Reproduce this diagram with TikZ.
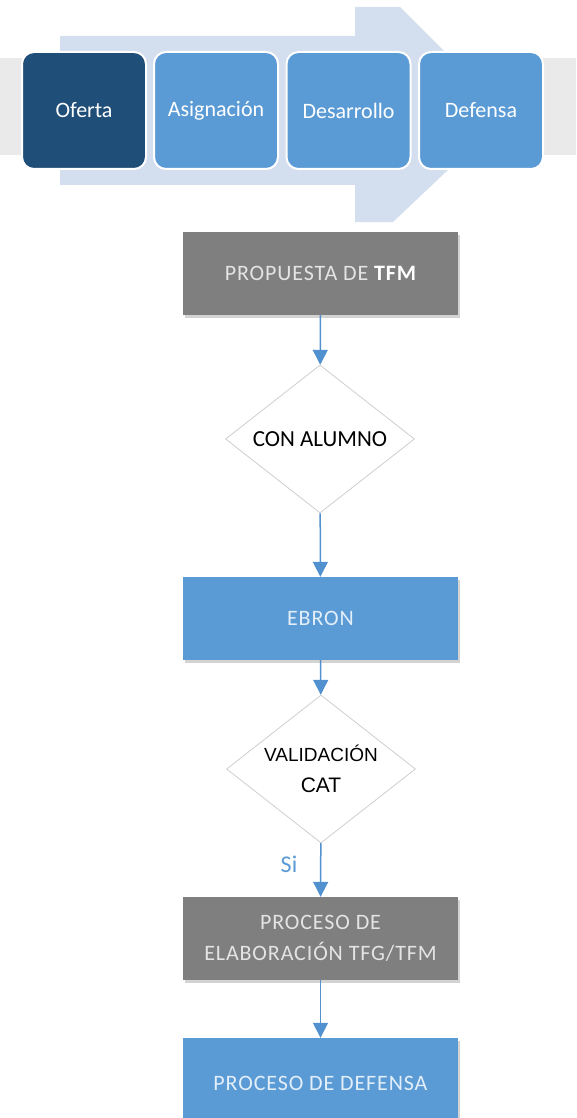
\documentclass[tikz,border=0pt]{standalone}
\usepackage{fontspec}
\setmainfont{Carlito}
\newfontfamily\arialf{Liberation Sans}
\usetikzlibrary{shapes.geometric,arrows.meta,shadows}
\definecolor{bandgray}{HTML}{EAEAEA}
\definecolor{arrowblue}{HTML}{D3DEEF}
\definecolor{darkblue}{HTML}{1F4E79}
\definecolor{midblue}{HTML}{5B9BD5}
\definecolor{boxgray}{HTML}{7F7F7F}
\definecolor{lighttext}{HTML}{E4E4E4}
\definecolor{bluetext}{HTML}{E2EEF9}
\definecolor{diaborder}{HTML}{CFCFCF}
\definecolor{connblue}{HTML}{5291CF}
\tikzset{
  stage/.style={rounded corners=12pt, draw=white, line width=2pt, minimum width=124pt, minimum height=117pt, inner sep=0pt, text=white, font=\fontsize{22}{24}\selectfont},
  procbox/.style={minimum width=275pt, minimum height=83pt, inner sep=0pt, align=center,
    drop shadow={opacity=0.35, shadow xshift=2pt, shadow yshift=-2.5pt}},
  graybox/.style={procbox, fill=boxgray, text=lighttext},
  bluebox/.style={procbox, fill=midblue, text=bluetext},
  decision/.style={diamond, shape aspect=1.28, draw=diaborder, line width=0.8pt, fill=white, minimum width=189pt, minimum height=148pt, inner sep=0pt, align=center, text=black},
  conn/.style={draw=connblue, line width=1.5pt, -{Triangle[width=15pt,length=15pt]}},
  flowfont/.style={font=\fontsize{22}{31}\selectfont\addfontfeature{LetterSpace=4}}
}
\begin{document}
\begin{tikzpicture}[x=1pt,y=-1pt]
\useasboundingbox (0,0) rectangle (576,1118);
% band and big arrow
\fill[bandgray] (0,58) rectangle (576,155);
\fill[arrowblue] (60,36) -- (355,36) -- (355,7) -- (400,7) -- (507,114) -- (393,222) -- (355,222) -- (355,185) -- (60,185) -- cycle;
% stages
\node[stage, fill=darkblue] (s1) at (84,110.5) {Oferta};
\node[stage, fill=midblue] (s2) at (216,110.5) {Asignación};
\node[stage, fill=midblue] (s3) at (348.5,110.5) {Desarrollo};
\node[stage, fill=midblue] (s4) at (481,110.5) {Defensa};
% flowchart
\node[graybox, flowfont] (b1) at (320.5,273.5) {PROPUESTA DE \textcolor{white}{\bfseries TFM}};
\node[decision, font=\fontsize{23}{26}\selectfont] (d1) at (320,439) {CON ALUMNO};
\node[bluebox, flowfont] (b2) at (320.5,618.5) {EBRON};
\node[decision, font=\arialf\fontsize{19}{31}\selectfont] (d2) at (321,769) {VALIDACIÓN\\{\fontsize{21}{24}\selectfont CAT}};
\node[graybox, flowfont] (b3) at (320.5,938.5) {PROCESO DE\\ELABORACIÓN TFG/TFM};
\node[bluebox, flowfont, minimum height=90pt] (b4) at (320.5,1083) {PROCESO DE DEFENSA};
\node[text=midblue, font=\fontsize{24}{26}\selectfont, inner sep=0pt] (si) at (289,864) {Si};
\draw[conn] (b1) -- (d1);
\draw[conn] (d1) -- (b2);
\draw[conn] (b2) -- (d2);
\draw[conn] (d2) -- (b3);
\draw[conn] (b3) -- (b4);
\end{tikzpicture}
\end{document}
